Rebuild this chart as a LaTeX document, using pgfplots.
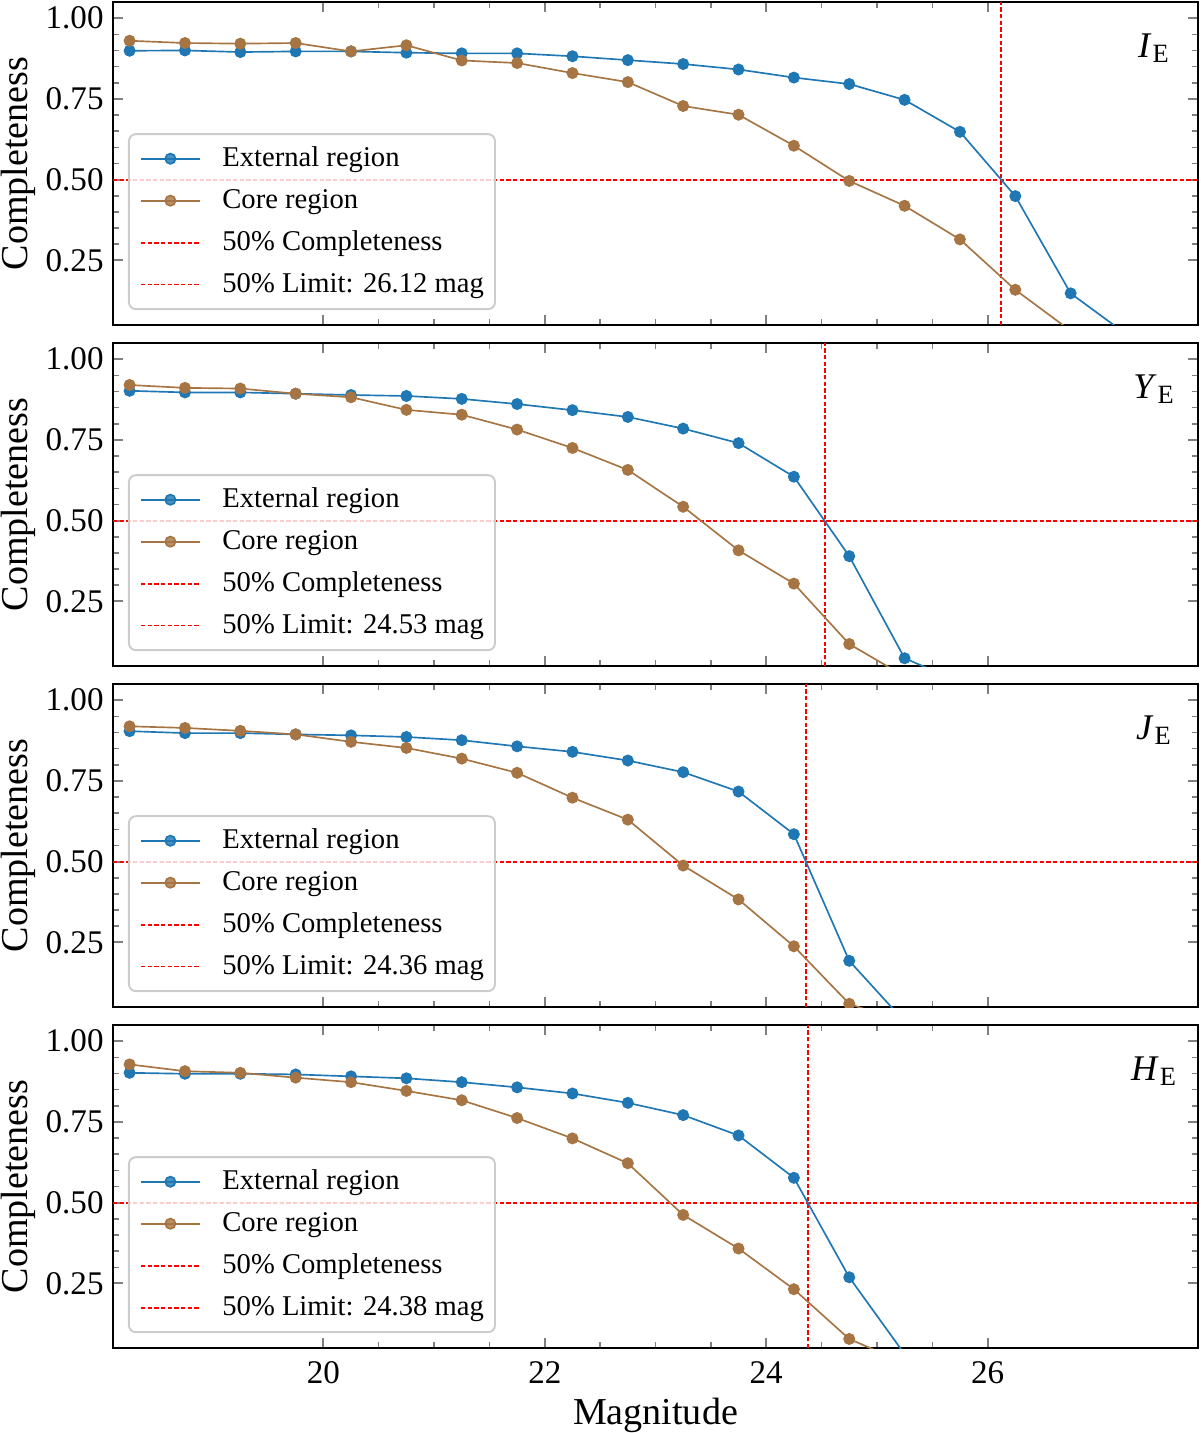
\documentclass[border=0pt]{standalone}
\usepackage{fontspec}
\setmainfont{Liberation Serif}
\usepackage{pgfplots}
\pgfplotsset{compat=1.18}

\definecolor{extblue}{HTML}{1F77B4}
\definecolor{corebrown}{HTML}{A67543}
\definecolor{limred}{HTML}{FF0000}

\tikzset{
  extline/.style={draw=extblue, color=extblue, line width=0.6pt, mark=*, mark size=1.85pt,
                  mark options={solid, fill=extblue, draw=extblue}},
  coreline/.style={draw=corebrown, color=corebrown, line width=0.6pt, mark=*, mark size=1.85pt,
                   mark options={solid, fill=corebrown, draw=corebrown}},
  limline/.style={draw=limred, color=limred, line width=0.65pt, dash pattern=on 1.6pt off 0.8pt},
}

\pgfplotsset{
  panel/.style={
    at={(0pt,#1)}, anchor=north west,
    scale only axis, width=390.6pt, height=116.28pt,
    xmin=18.1, xmax=27.9, ymin=0.05, ymax=1.05,
    xtick={20,22,24,26}, minor x tick num=3,
    ytick={0.25,0.5,0.75,1.0}, minor y tick num=4,
    tick align=inside,
    major tick length=3.6pt, minor tick length=2.2pt,
    every major tick/.append style={line width=0.7pt},
    every minor tick/.append style={line width=0.55pt},
    axis line style={line width=0.75pt},
    tick label style={font=\fontsize{11.9}{13}\selectfont},
    /pgf/number format/assume math mode=true,
    yticklabel style={/pgf/number format/fixed, /pgf/number format/fixed zerofill, /pgf/number format/precision=2},
    yticklabel style={anchor=east, inner xsep=0pt, xshift=-3.2pt},
    xticklabel style={anchor=base, yshift=-12.6pt},
    ylabel={Completeness},
    ylabel style={at={(axis description cs:-0.104,0.5)}, anchor=north, inner sep=0pt,
                  font=\fontsize{13.7}{15}\selectfont},
    clip mode=individual,
    clip marker paths=true,
    legend cell align=left,
    legend image code/.code={\draw[mark repeat=2,mark phase=2,##1] plot coordinates {(0pt,0pt) (10.6pt,0pt) (21.2pt,0pt)};},
    legend style={at={(0.0138,0.046)}, anchor=south west,
      draw=black!20, line width=0.7pt, rounded corners=2.5pt,
      fill=white, fill opacity=0.8, draw opacity=1, text opacity=1,
      font=\fontsize{10.3}{12}\selectfont,
      inner xsep=4pt, inner ysep=3.6pt, row sep=4.6pt, column sep=7.8pt,
      nodes={inner sep=0pt, text height=8pt, text depth=2.5pt}},
  },
}

\newcommand{\bandlabel}[1]{\node[font=\fontsize{13}{15}\selectfont] at (axis description cs:0.959,0.857)
  {\textit{#1}\kern0.03em\raisebox{-0.28ex}{\fontsize{9.5}{11}\selectfont E}};}

\begin{document}
\begin{tikzpicture}
\useasboundingbox (-40.68pt,0.72pt) rectangle (391.32pt,-515.16pt);

% ---------------- I_E ----------------
\begin{axis}[panel=0pt, xticklabels={}]
\addplot[limline, forget plot] coordinates {(18.1,0.5) (27.9,0.5)};
\addplot[limline, forget plot] coordinates {(26.12,0.05) (26.12,1.05)};
\addplot[extline] table {
18.25 0.899
18.75 0.900
19.25 0.895
19.75 0.897
20.25 0.897
20.75 0.893
21.25 0.891
21.75 0.891
22.25 0.882
22.75 0.870
23.25 0.858
23.75 0.841
24.25 0.816
24.75 0.796
25.25 0.747
25.75 0.648
26.25 0.449
26.75 0.148
27.25 0.022
};
\addlegendentry{External region}
\addplot[coreline] table {
18.25 0.930
18.75 0.923
19.25 0.921
19.75 0.923
20.25 0.897
20.75 0.916
21.25 0.869
21.75 0.861
22.25 0.830
22.75 0.802
23.25 0.728
23.75 0.701
24.25 0.605
24.75 0.496
25.25 0.419
25.75 0.315
26.25 0.159
26.75 0.032
};
\addlegendentry{Core region}
\addlegendimage{limline}
\addlegendentry{50\% Completeness}
\addlegendimage{limline}
\addlegendentry{50\% Limit: 26.12 mag}
\bandlabel{I}
\end{axis}

% ---------------- Y_E ----------------
\begin{axis}[panel=-122.76pt, xticklabels={}]
\addplot[limline, forget plot] coordinates {(18.1,0.5) (27.9,0.5)};
\addplot[limline, forget plot] coordinates {(24.53,0.05) (24.53,1.05)};
\addplot[extline] table {
18.25 0.902
18.75 0.897
19.25 0.897
19.75 0.893
20.25 0.889
20.75 0.886
21.25 0.877
21.75 0.861
22.25 0.842
22.75 0.821
23.25 0.785
23.75 0.740
24.25 0.636
24.75 0.390
25.25 0.074
25.75 0.000
};
\addlegendentry{External region}
\addplot[coreline] table {
18.25 0.920
18.75 0.911
19.25 0.909
19.75 0.893
20.25 0.882
20.75 0.843
21.25 0.828
21.75 0.782
22.25 0.725
22.75 0.657
23.25 0.543
23.75 0.408
24.25 0.305
24.75 0.118
25.25 0.018
};
\addlegendentry{Core region}
\addlegendimage{limline}
\addlegendentry{50\% Completeness}
\addlegendimage{limline}
\addlegendentry{50\% Limit: 24.53 mag}
\bandlabel{Y}
\end{axis}

% ---------------- J_E ----------------
\begin{axis}[panel=-245.52pt, xticklabels={}]
\addplot[limline, forget plot] coordinates {(18.1,0.5) (27.9,0.5)};
\addplot[limline, forget plot] coordinates {(24.36,0.05) (24.36,1.05)};
\addplot[extline] table {
18.25 0.904
18.75 0.898
19.25 0.898
19.75 0.894
20.25 0.891
20.75 0.886
21.25 0.876
21.75 0.857
22.25 0.840
22.75 0.813
23.25 0.777
23.75 0.717
24.25 0.585
24.75 0.193
25.25 0.005
};
\addlegendentry{External region}
\addplot[coreline] table {
18.25 0.919
18.75 0.914
19.25 0.905
19.75 0.894
20.25 0.871
20.75 0.852
21.25 0.819
21.75 0.775
22.25 0.698
22.75 0.630
23.25 0.488
23.75 0.383
24.25 0.238
24.75 0.060
25.25 0.000
};
\addlegendentry{Core region}
\addlegendimage{limline}
\addlegendentry{50\% Completeness}
\addlegendimage{limline}
\addlegendentry{50\% Limit: 24.36 mag}
\bandlabel{J}
\end{axis}

% ---------------- H_E ----------------
\begin{axis}[panel=-368.28pt, xlabel={Magnitude},
  xlabel style={at={(axis description cs:0.5,0)}, anchor=base, yshift=-27.4pt,
                font=\fontsize{13.7}{15}\selectfont}]
\addplot[limline, forget plot] coordinates {(18.1,0.5) (27.9,0.5)};
\addplot[limline, forget plot] coordinates {(24.38,0.05) (24.38,1.05)};
\addplot[extline] table {
18.25 0.902
18.75 0.899
19.25 0.899
19.75 0.897
20.25 0.891
20.75 0.885
21.25 0.873
21.75 0.857
22.25 0.838
22.75 0.809
23.25 0.771
23.75 0.708
24.25 0.577
24.75 0.269
25.25 0.031
};
\addlegendentry{External region}
\addplot[coreline] table {
18.25 0.928
18.75 0.907
19.25 0.902
19.75 0.887
20.25 0.873
20.75 0.846
21.25 0.817
21.75 0.762
22.25 0.699
22.75 0.622
23.25 0.462
23.75 0.358
24.25 0.232
24.75 0.078
25.25 0.004
};
\addlegendentry{Core region}
\addlegendimage{limline}
\addlegendentry{50\% Completeness}
\addlegendimage{limline}
\addlegendentry{50\% Limit: 24.38 mag}
\bandlabel{H}
\end{axis}
\end{tikzpicture}
\end{document}
